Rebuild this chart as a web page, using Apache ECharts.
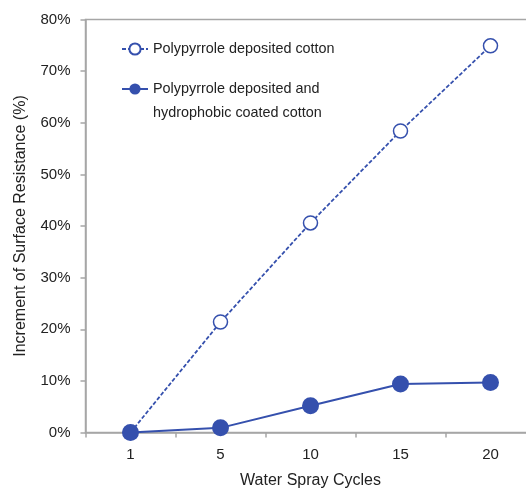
<!DOCTYPE html>
<html>
<head>
<meta charset="utf-8">
<script src="https://cdn.jsdelivr.net/npm/echarts@6/dist/echarts.min.js"></script>
<style>
  html, body { margin: 0; padding: 0; background: #fff; }
  #chart { width: 526px; height: 490px; }
</style>
</head>
<body>
<div id="chart"></div>
<script>
// categories on the x axis
const cycles = ['1', '5', '10', '15', '20'];

// series values (percent)
const depositedCotton = [0, 21.4, 40.6, 58.4, 74.9];
const coatedCotton = [0, 0.9, 5.2, 9.4, 9.7];

const seriesNames = [
    'Polypyrrole deposited cotton',
    'Polypyrrole deposited and\nhydrophobic coated cotton'
];

const BLUE = '#3550ad';
const AXIS_GRAY = '#a6a6a6';
const FONT = 'Liberation Sans, Arial, sans-serif';

const chart = echarts.init(document.getElementById('chart'));

const legendText = { fontFamily: FONT, fontSize: 14.4, color: '#222', lineHeight: 24 };

const option = {
    animation: false,
    grid: {
        left: 85.5,
        width: 450,
        top: 19.5,
        bottom: 57.5,
        outerBoundsMode: 'none',
        containLabel: false,
        show: true,
        borderColor: AXIS_GRAY,
        borderWidth: 1.5
    },
    legend: [
        {
            data: [seriesNames[0]],
            left: 121,
            top: 37,
            padding: 0,
            itemWidth: 26,
            itemHeight: 14,
            textStyle: legendText
        },
        {
            data: [seriesNames[1]],
            left: 121,
            top: 53,
            padding: 0,
            itemWidth: 26,
            itemHeight: 14,
            // leading blank line keeps the icon level with the first text line
            formatter: name => '\n' + name,
            textStyle: legendText
        }
    ],
    xAxis: {
        type: 'category',
        data: cycles,
        boundaryGap: true,
        name: 'Water Spray Cycles',
        nameLocation: 'middle',
        nameGap: 40,
        nameTextStyle: { fontFamily: FONT, fontSize: 16, color: '#222' },
        axisLine: { lineStyle: { color: AXIS_GRAY, width: 1.5 } },
        axisTick: { show: true, length: 5, lineStyle: { color: AXIS_GRAY, width: 1.5 } },
        axisLabel: { fontFamily: FONT, fontSize: 15, color: '#222', margin: 15 },
        splitLine: { show: false }
    },
    yAxis: {
        type: 'value',
        min: 0,
        max: 80,
        interval: 10,
        name: 'Increment of Surface Resistance (%)',
        nameLocation: 'middle',
        nameGap: 57,
        nameTextStyle: { fontFamily: FONT, fontSize: 16, color: '#222' },
        axisLine: { show: true, lineStyle: { color: AXIS_GRAY, width: 1.5 } },
        axisTick: { show: true, length: 5, lineStyle: { color: AXIS_GRAY, width: 1.5 } },
        axisLabel: { fontFamily: FONT, fontSize: 15, color: '#222', margin: 15, formatter: '{value}%' },
        splitLine: { show: false }
    },
    series: [
        {
            name: seriesNames[0],
            type: 'line',
            data: depositedCotton,
            symbol: 'circle',
            symbolSize: 14,
            showAllSymbol: true,
            lineStyle: { color: BLUE, width: 1.8, type: [4, 2] },
            itemStyle: { color: '#fff', borderColor: BLUE, borderWidth: 1.5 },
            z: 2
        },
        {
            name: seriesNames[1],
            type: 'line',
            data: coatedCotton,
            symbol: 'circle',
            symbolSize: 17,
            lineStyle: { color: BLUE, width: 2 },
            itemStyle: { color: BLUE, borderColor: BLUE, borderWidth: 0 },
            z: 3
        }
    ]
};

chart.setOption(option);
</script>
</body>
</html>
